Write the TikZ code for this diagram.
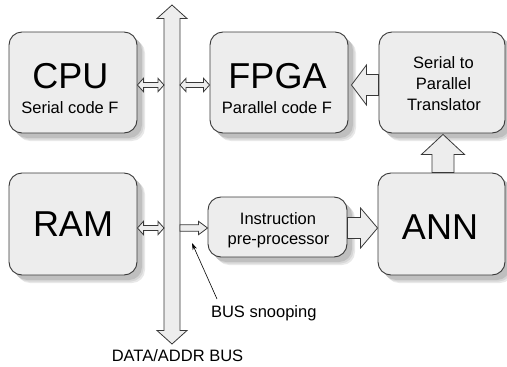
\documentclass[tikz,border=0pt]{standalone}
\usepackage{fontspec}
\setmainfont{Liberation Sans}
\usetikzlibrary{calc,arrows.meta}

% horizontal single block arrow: tail, tip, shaft half width, head half width, head length
\newcommand\hblock[5]{%
  \draw[blk] let \p1=(#1), \p2=(#2), \n1={#5*sign(\x2-\x1)} in
    ({\x1},{\y1+#3}) -- ({\x2-(\n1)},{\y1+#3}) -- ({\x2-(\n1)},{\y1+#4}) -- ({\x2},{\y1})
    -- ({\x2-(\n1)},{\y1-#4}) -- ({\x2-(\n1)},{\y1-#3}) -- ({\x1},{\y1-#3}) -- cycle;}
% horizontal double block arrow between two tips
\newcommand\hdbl[5]{%
  \draw[blk] let \p1=(#1), \p2=(#2), \n1={#5*sign(\x2-\x1)} in
    ({\x1},{\y1}) -- ({\x1+(\n1)},{\y1+#4}) -- ({\x1+(\n1)},{\y1+#3}) -- ({\x2-(\n1)},{\y1+#3})
    -- ({\x2-(\n1)},{\y1+#4}) -- ({\x2},{\y1}) -- ({\x2-(\n1)},{\y1-#4}) -- ({\x2-(\n1)},{\y1-#3})
    -- ({\x1+(\n1)},{\y1-#3}) -- ({\x1+(\n1)},{\y1-#4}) -- cycle;}
% vertical single block arrow
\newcommand\vblock[5]{%
  \draw[blk] let \p1=(#1), \p2=(#2), \n1={#5*sign(\y2-\y1)} in
    ({\x1+#3},{\y1}) -- ({\x1+#3},{\y2-(\n1)}) -- ({\x1+#4},{\y2-(\n1)}) -- ({\x1},{\y2})
    -- ({\x1-#4},{\y2-(\n1)}) -- ({\x1-#3},{\y2-(\n1)}) -- ({\x1-#3},{\y1}) -- cycle;}
% vertical double block arrow
\newcommand\vdbl[5]{%
  \draw[blk] let \p1=(#1), \p2=(#2), \n1={#5*sign(\y2-\y1)} in
    ({\x1},{\y1}) -- ({\x1+#4},{\y1+(\n1)}) -- ({\x1+#3},{\y1+(\n1)}) -- ({\x1+#3},{\y2-(\n1)})
    -- ({\x1+#4},{\y2-(\n1)}) -- ({\x1},{\y2}) -- ({\x1-#4},{\y2-(\n1)}) -- ({\x1-#3},{\y2-(\n1)})
    -- ({\x1-#3},{\y1+(\n1)}) -- ({\x1-#4},{\y1+(\n1)}) -- cycle;}
% rounded block with a soft drop shadow: name, centre x, centre y, width, height
\newcommand\blockbox[5]{%
  \node[shade box, minimum width=#4pt, minimum height=#5pt, fill=black!9]
    at ({#2+8},{#3+8}) {};
  \node[shade box, minimum width=#4pt, minimum height=#5pt, fill=black!16]
    at ({#2+6.5},{#3+6.5}) {};
  \node[shade box, minimum width=#4pt, minimum height=#5pt, fill=black!25]
    at ({#2+5},{#3+5}) {};
  \node[box, minimum width=#4pt, minimum height=#5pt] (#1) at (#2,#3) {};}

\begin{document}
\begin{tikzpicture}[x=1pt,y=-1pt,
  shade box/.style={draw=none, rounded corners=13pt, inner sep=0pt},
  box/.style={draw=black!78, line width=0.9pt, fill=black!7, rounded corners=13pt,
    inner sep=0pt},
  blk/.style={draw=black!78, line width=0.8pt, fill=black!7, line join=miter},
  big/.style={font=\fontsize{36}{40}\selectfont, inner sep=0pt, anchor=base},
  small/.style={font=\fontsize{16.5}{20}\selectfont, inner sep=0pt, anchor=base}]
\useasboundingbox (0,0) rectangle (507,367);

% reference rows and columns
\coordinate (rowA) at (0,85);
\coordinate (rowB) at (0,228);
\coordinate (colC) at (443,0);
\coordinate (busTop) at (172,5);
\coordinate (busBot) at (172,344);
\coordinate (busL) at (164,0);
\coordinate (busR) at (180,0);

% data/address bus
\vdbl{busTop}{busBot}{8}{15}{13.5}
\node[small] (busname) at (177.5,361) {DATA/ADDR BUS};

% blocks
\blockbox{cpu}{73}{82.5}{128}{101}
\blockbox{fpga}{279}{82.5}{138}{101}
\blockbox{s2p}{442}{82.5}{126}{101}
\blockbox{ram}{73}{224}{128}{102}
\blockbox{instr}{277.5}{227}{139}{60}
\blockbox{ann}{441.5}{224}{127}{102}

% block texts
\node[big]   (cpuT)   at (70.5,88)  {CPU};
\node[small] (cpuS)   at (70,113)   {Serial code F};
\node[big]   (fpgaT)  at (277.5,88) {FPGA};
\node[small] (fpgaS)  at (277,113)  {Parallel code F};
\node[small] (s2pA)   at (443.5,68.5)  {Serial to};
\node[small] (s2pB)   at (443.5,89.5)  {Parallel};
\node[small] (s2pC)   at (444,110.5)   {Translator};
\node[big]   (ramT)   at (73,236.5) {RAM};
\node[small] (instrA) at (278,224)  {Instruction};
\node[small] (instrB) at (278.5,244) {pre-processor};
\node[big]   (annT)   at (440,239)  {ANN};

% bus connections
\hdbl{cpu.east |- rowA}{busL |- rowA}{2.5}{6.7}{6}
\hdbl{busR |- rowA}{fpga.west |- rowA}{2.5}{6.7}{6}
\hdbl{ram.east |- rowB}{busL |- rowB}{2.5}{6.7}{6}
\hblock{busR |- rowB}{instr.west |- rowB}{3.2}{6.7}{9}

% data path
\hblock{instr.east |- rowB}{ann.west |- rowB}{10.5}{20}{17}
\vblock{ann.north -| colC}{$(s2p.south -| colC)+(0,1)$}{11}{21.5}{20}
\hblock{s2p.west |- rowA}{$(fpga.east |- rowA)+(3,0)$}{10.5}{20}{15}

% bus snooping annotation
\node[small] (snoop) at (263.8,317) {BUS snooping};
\coordinate (snoopTail) at (217,299);
\coordinate (snoopTip) at (192,243);
\draw[line width=0.6pt, -{Stealth[length=7pt,width=4.5pt]}] (snoopTail) -- (snoopTip);
\end{tikzpicture}
\end{document}
